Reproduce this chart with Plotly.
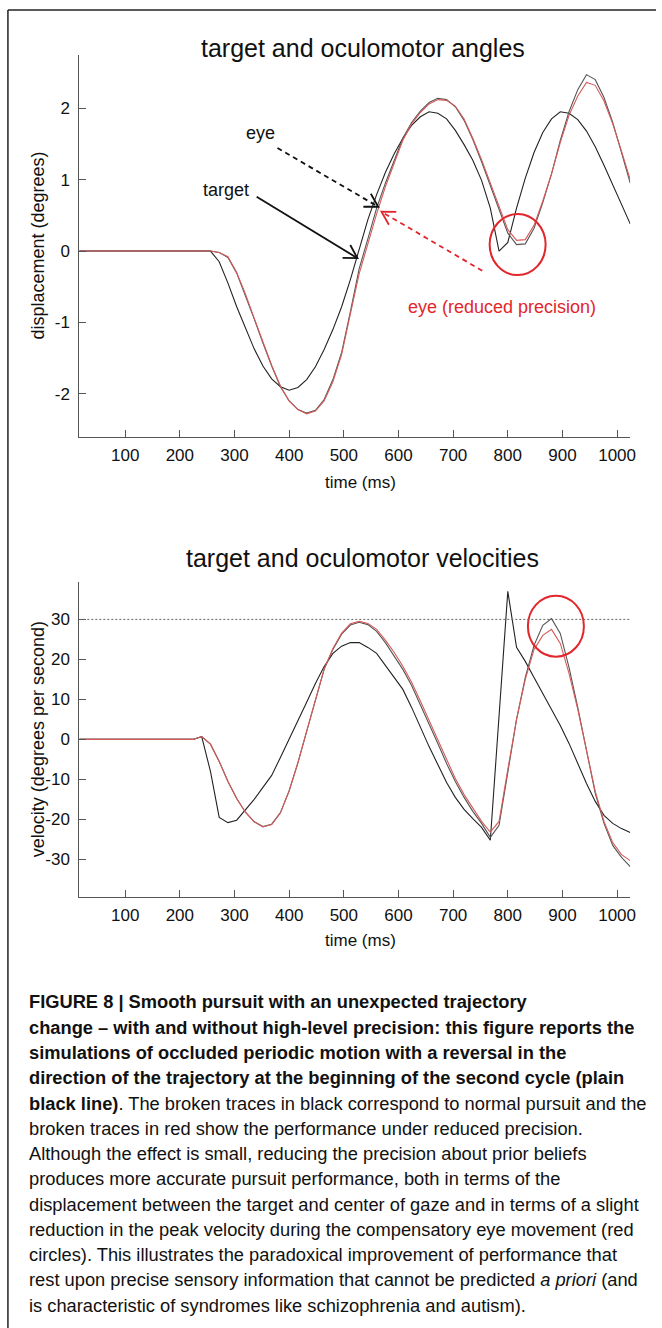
import math
import plotly.graph_objects as go

# ---------------- data ----------------
time_ms = [16, 32, 48, 64, 80, 96, 112, 128, 144, 160, 176, 192, 208, 224, 240, 256,
           272, 288, 304, 320, 336, 352, 368, 384, 400, 416, 432, 448, 464, 480, 496, 512,
           528, 544, 560, 576, 592, 608, 624, 640, 656, 672, 688, 704, 720, 736, 752, 768,
           784, 800, 816, 832, 848, 864, 880, 896, 912, 928, 944, 960, 976, 992, 1008, 1024]

disp_target = [0, 0, 0, 0, 0, 0, 0, 0, 0, 0, 0, 0, 0, 0, 0, 0,
               -0.15, -0.45, -0.78, -1.08, -1.37, -1.61, -1.79, -1.90, -1.95, -1.91, -1.80, -1.62, -1.38, -1.10, -0.78, -0.40,
               0.02, 0.44, 0.79, 1.10, 1.36, 1.58, 1.76, 1.88, 1.95, 1.93, 1.85, 1.69, 1.49, 1.27, 0.99, 0.60,
               0.00, 0.12, 0.60, 1.02, 1.38, 1.66, 1.85, 1.95, 1.93, 1.84, 1.68, 1.46, 1.20, 0.92, 0.65, 0.38]

disp_eye = [0, 0, 0, 0, 0, 0, 0, 0, 0, 0, 0, 0, 0, 0, 0, 0,
            -0.02, -0.09, -0.31, -0.62, -0.95, -1.29, -1.61, -1.90, -2.10, -2.22, -2.27, -2.23, -2.08, -1.80, -1.42, -0.85,
            -0.25, 0.17, 0.60, 0.95, 1.27, 1.58, 1.80, 1.96, 2.08, 2.14, 2.12, 2.02, 1.83, 1.56, 1.25, 0.92,
            0.58, 0.25, 0.09, 0.10, 0.32, 0.68, 1.08, 1.55, 1.95, 2.26, 2.47, 2.40, 2.15, 1.80, 1.38, 0.95]

disp_eye_reduced = [0, 0, 0, 0, 0, 0, 0, 0, 0, 0, 0, 0, 0, 0, 0, 0,
                    -0.02, -0.08, -0.30, -0.60, -0.94, -1.28, -1.60, -1.89, -2.10, -2.22, -2.28, -2.24, -2.10, -1.83, -1.45, -0.88,
                    -0.32, 0.10, 0.52, 0.90, 1.22, 1.55, 1.78, 1.94, 2.06, 2.12, 2.11, 2.03, 1.85, 1.58, 1.28, 0.95,
                    0.62, 0.30, 0.15, 0.16, 0.36, 0.70, 1.08, 1.52, 1.90, 2.17, 2.36, 2.32, 2.10, 1.78, 1.40, 1.00]

vel_target = [0, 0, 0, 0, 0, 0, 0, 0, 0, 0, 0, 0, 0, 0, 0.7, -8.0,
              -19.5, -20.8, -20.2, -17.5, -15.0, -12.0, -9.0, -4.5, 0.0, 4.5, 9.3, 14.0, 18.2, 21.5, 23.3, 24.2,
              24.2, 23.0, 21.5, 18.5, 15.5, 12.5, 8.0, 3.0, -1.8, -6.3, -10.8, -14.5, -17.5, -19.8, -22.0, -25.2,
              6.0, 37.0, 23.0, 19.5, 15.5, 11.5, 7.5, 3.5, -1.0, -6.0, -11.0, -15.5, -19.0, -21.0, -22.3, -23.3]

vel_eye = [0, 0, 0, 0, 0, 0, 0, 0, 0, 0, 0, 0, 0, 0, 0.7, -1.2,
           -5.5, -10.5, -14.8, -18.2, -20.6, -21.8, -21.2, -18.3, -12.8, -5.8, 2.0, 10.0, 17.5, 22.5, 26.3, 28.6,
           29.3, 28.7, 27.0, 24.2, 21.0, 17.5, 13.5, 8.8, 4.0, -1.0, -6.0, -10.5, -14.5, -18.0, -21.0, -24.5,
           -21.5, -8.0, 5.0, 15.5, 23.5, 28.5, 30.2, 26.5, 18.0, 8.0, -3.0, -13.5, -21.0, -26.5, -29.5, -31.8]

vel_eye_reduced = [0, 0, 0, 0, 0, 0, 0, 0, 0, 0, 0, 0, 0, 0, 0.7, -1.2,
                   -5.5, -10.5, -14.8, -18.2, -20.6, -21.9, -21.3, -18.4, -12.9, -5.9, 2.0, 10.0, 17.6, 22.7, 26.6, 28.9,
                   29.5, 29.0, 27.5, 24.8, 21.8, 18.3, 14.3, 9.6, 4.8, -0.2, -5.2, -9.8, -13.8, -17.3, -20.5, -23.2,
                   -20.5, -7.5, 5.0, 15.0, 22.5, 26.0, 27.5, 24.0, 16.5, 7.5, -3.0, -13.0, -20.5, -25.8, -28.8, -30.3]

time_ticks = [100, 200, 300, 400, 500, 600, 700, 800, 900, 1000]
disp_ticks = [-2, -1, 0, 1, 2]
vel_ticks = [-30, -20, -10, 0, 10, 20, 30]
vel_reference = 30

caption_lines = [
    "<b>FIGURE 8 | Smooth pursuit with an unexpected trajectory</b>",
    "<b>change \u2013 with and without high-level precision: this figure reports the</b>",
    "<b>simulations of occluded periodic motion with a reversal in the</b>",
    "<b>direction of the trajectory at the beginning of the second cycle (plain</b>",
    "<b>black line)</b>. The broken traces in black correspond to normal pursuit and the",
    "broken traces in red show the performance under reduced precision.",
    "Although the effect is small, reducing the precision about prior beliefs",
    "produces more accurate pursuit performance, both in terms of the",
    "displacement between the target and center of gaze and in terms of a slight",
    "reduction in the peak velocity during the compensatory eye movement (red",
    "circles). This illustrates the paradoxical improvement of performance that",
    "rest upon precise sensory information that cannot be predicted <i>a priori</i> (and",
    "is characteristic of syndromes like schizophrenia and autism).",
]

# ---------------- layout constants ----------------
W, H = 662, 1328
FONT = "Liberation Sans, Arial, Helvetica, sans-serif"
X0_PX, X1_PX = 80, 636
TOP_Y0_PX, TOP_Y1_PX = 55, 436.7
BOT_Y0_PX, BOT_Y1_PX = 582, 897
X_RANGE = [16, 1024]
DISP_RANGE = [-2.6, 2.745]
VEL_RANGE = [-39.4, 39.35]

RED = "#e3262b"
LINE_RED = "#d65a5a"
INK = "#111111"


def px(x):
    return x / W


def py(y):
    return 1 - y / H


kx = (X1_PX - X0_PX) / (X_RANGE[1] - X_RANGE[0])
ky_top = (TOP_Y1_PX - TOP_Y0_PX) / (DISP_RANGE[1] - DISP_RANGE[0])

fig = go.Figure()

# top panel traces
fig.add_trace(go.Scatter(x=time_ms, y=disp_target, mode="lines", line=dict(color="#222222", width=1.1),
                         xaxis="x", yaxis="y", showlegend=False, name="target"))
fig.add_trace(go.Scatter(x=time_ms, y=disp_eye, mode="lines", line=dict(color="#555555", width=1.1),
                         xaxis="x", yaxis="y", showlegend=False, name="eye"))
fig.add_trace(go.Scatter(x=time_ms, y=disp_eye_reduced, mode="lines", line=dict(color=LINE_RED, width=1.1),
                         xaxis="x", yaxis="y", showlegend=False, name="eye (reduced precision)"))

# bottom panel traces
fig.add_trace(go.Scatter(x=time_ms, y=vel_target, mode="lines", line=dict(color="#222222", width=1.1),
                         xaxis="x2", yaxis="y2", showlegend=False, name="target"))
fig.add_trace(go.Scatter(x=time_ms, y=vel_eye, mode="lines", line=dict(color="#555555", width=1.1),
                         xaxis="x2", yaxis="y2", showlegend=False, name="eye"))
fig.add_trace(go.Scatter(x=time_ms, y=vel_eye_reduced, mode="lines", line=dict(color=LINE_RED, width=1.1),
                         xaxis="x2", yaxis="y2", showlegend=False, name="eye (reduced precision)"))

axis_common = dict(showgrid=False, zeroline=False, showline=True, linecolor="#555555", linewidth=1,
                   ticks="inside", ticklen=7, tickcolor="#555555", tickwidth=1,
                   tickfont=dict(family=FONT, size=17, color=INK))

fig.update_layout(
    width=W, height=H,
    margin=dict(l=0, r=0, t=0, b=0),
    paper_bgcolor="white", plot_bgcolor="white",
    font=dict(family=FONT, color=INK),
    xaxis=dict(domain=[px(X0_PX), px(X1_PX)], range=X_RANGE, tickvals=time_ticks,
               ticktext=[str(v) for v in time_ticks], anchor="y", ticklabelstandoff=3, **axis_common),
    yaxis=dict(domain=[py(TOP_Y1_PX), py(TOP_Y0_PX)], range=DISP_RANGE, tickvals=disp_ticks,
               ticktext=[str(v) for v in disp_ticks], anchor="x", ticklabelstandoff=5, **axis_common),
    xaxis2=dict(domain=[px(X0_PX), px(X1_PX)], range=X_RANGE, tickvals=time_ticks,
                ticktext=[str(v) for v in time_ticks], anchor="y2", ticklabelstandoff=3, **axis_common),
    yaxis2=dict(domain=[py(BOT_Y1_PX), py(BOT_Y0_PX)], range=VEL_RANGE, tickvals=vel_ticks,
                ticktext=[str(v) for v in vel_ticks], anchor="x2", ticklabelstandoff=5, **axis_common),
)

annotations = []
shapes = []


def paper_text(text, x, y, size, angle=0, color=INK, xanchor="center"):
    return dict(text=text, x=px(x), y=py(y), xref="paper", yref="paper", showarrow=False,
                xanchor=xanchor, yanchor="middle", textangle=angle,
                font=dict(size=size, family=FONT, color=color))


# titles and axis titles
annotations.append(paper_text("target and oculomotor angles", 366, 48, 25))
annotations.append(paper_text("target and oculomotor velocities", 366, 558, 25))
annotations.append(paper_text("time (ms)", 364, 482, 17))
annotations.append(paper_text("time (ms)", 364, 940, 17))
annotations.append(paper_text("displacement (degrees)", 38, (TOP_Y0_PX + TOP_Y1_PX) / 2, 18, angle=-90))
annotations.append(paper_text("velocity (degrees per second)", 38, (BOT_Y0_PX + BOT_Y1_PX) / 2, 18, angle=-90))

# labels inside the top panel
annotations.append(dict(text="eye", x=347, y=1.65, xref="x", yref="y", showarrow=False,
                        xanchor="center", yanchor="middle", font=dict(size=18, family=FONT, color=INK)))
annotations.append(dict(text="target", x=285, y=0.85, xref="x", yref="y", showarrow=False,
                        xanchor="center", yanchor="middle", font=dict(size=18, family=FONT, color=INK)))
annotations.append(dict(text="eye (reduced precision)", x=790, y=-0.78, xref="x", yref="y", showarrow=False,
                        xanchor="center", yanchor="middle", font=dict(size=18, family=FONT, color=RED)))

# arrows: (tail t, tail v, tip t, tip v, color, dash)
arrows = [
    (378.6, 1.443, 563.0, 0.62, "#111111", "5px,4px"),
    (340.5, 0.76, 524.9, -0.10, "#111111", "solid"),
    (753.3, -0.276, 568.9, 0.55, RED, "5px,4px"),
]
for (sx, sy, tx, ty, col, dash) in arrows:
    shapes.append(dict(type="line", xref="x", yref="y", x0=sx, y0=sy, x1=tx, y1=ty,
                       line=dict(color=col, width=1.8, dash=dash)))
    dxp = (tx - sx) * kx
    dyp = (ty - sy) * ky_top
    n = math.hypot(dxp, dyp)
    ux, uy = -dxp / n, -dyp / n
    L = 15
    pts = []
    for ang in (math.radians(30), math.radians(-30)):
        wx = ux * math.cos(ang) - uy * math.sin(ang)
        wy = ux * math.sin(ang) + uy * math.cos(ang)
        pts.append((tx + wx * L / kx, ty + wy * L / ky_top))
    path = f"M {pts[0][0]},{pts[0][1]} L {tx},{ty} L {pts[1][0]},{pts[1][1]}"
    shapes.append(dict(type="path", xref="x", yref="y", path=path, line=dict(color=col, width=1.8)))

# red circles
for (cx, cy, xr, yr) in ((818, 0.09, "x", "y"), (888, 28.3, "x2", "y2")):
    shapes.append(dict(type="circle", xref=xr, yref=yr, xsizemode="pixel", ysizemode="pixel",
                       xanchor=cx, yanchor=cy, x0=-28, x1=28, y0=-30.5, y1=30.5,
                       line=dict(color=RED, width=2)))

# dotted reference line in velocity panel
shapes.append(dict(type="line", xref="x2", yref="y2", x0=X_RANGE[0], x1=X_RANGE[1], y0=vel_reference,
                   y1=vel_reference, line=dict(color="#666666", width=1, dash="2px,2px")))

# frame of the figure
shapes.append(dict(type="line", xref="paper", yref="paper", x0=px(8), x1=1, y0=py(10), y1=py(10),
                   line=dict(color="#222222", width=1.5)))
shapes.append(dict(type="line", xref="paper", yref="paper", x0=px(8), x1=px(8), y0=py(10), y1=0,
                   line=dict(color="#222222", width=1.5)))

# caption
for i, line in enumerate(caption_lines):
    annotations.append(paper_text(line, 27, 1002 + 25.25 * i, 18.3, xanchor="left"))

fig.update_layout(annotations=annotations, shapes=shapes)
fig.write_html("out.html")
